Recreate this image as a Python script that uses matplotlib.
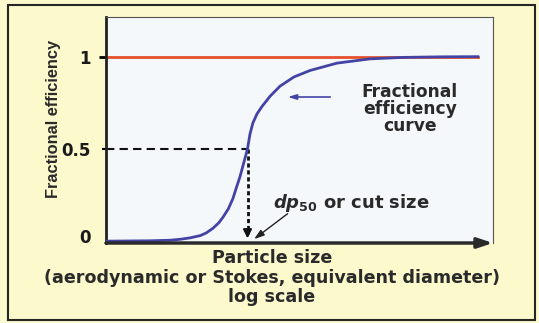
import matplotlib
matplotlib.use("Agg")
import matplotlib.pyplot as plt
from matplotlib.patches import Rectangle
from matplotlib.transforms import ScaledTranslation

# fractional efficiency curve (particle size on a log axis, arbitrary units)
sizes = [0.08, 0.175, 0.25, 0.3, 0.36, 0.43, 0.48, 0.54, 0.6, 0.646, 0.71, 0.77,
         0.82, 0.875, 0.94, 1.0, 1.045, 1.10, 1.185, 1.295, 1.494, 1.786, 2.29,
         3.05, 4.94, 8.9, 16.0, 31.0, 61.0]
efficiency = [0.0, 0.002, 0.005, 0.01, 0.018, 0.03, 0.045, 0.07, 0.10, 0.13, 0.175, 0.23,
              0.29, 0.35, 0.43, 0.50, 0.58, 0.64, 0.69, 0.73, 0.785, 0.84, 0.89,
              0.925, 0.965, 0.988, 0.996, 0.999, 1.0]
dp50 = 1.0
cut_eff = 0.5
ytick_vals = [0, 0.5, 1]
ytick_labels = ["0", "0.5", "1"]

ylabel = "Fractional efficiency"
xlabel_lines = ["Particle size", "(aerodynamic or Stokes, equivalent diameter)", "log scale"]
curve_label = "Fractional\nefficiency\ncurve"
cut_label = r"$dp_{50}$ or cut size"

plt.rcParams["mathtext.fontset"] = "custom"
plt.rcParams["mathtext.it"] = "DejaVu Sans:italic:bold"
plt.rcParams["mathtext.rm"] = "DejaVu Sans:bold"
plt.rcParams["mathtext.bf"] = "DejaVu Sans:bold"

W, H = 539, 323
fig = plt.figure(figsize=(W / 100, H / 100), dpi=100, facecolor="#fcf9cc")

# outer frame
fig.add_artist(Rectangle((8 / W, 1 - 320 / H), 527 / W, 315 / H, transform=fig.transFigure,
                         fill=False, ec="#262626", lw=1.5))

ax = fig.add_axes([106 / W, 1 - 243 / H, 387 / W, 226 / H], facecolor="#f5f8fa")
ax.set_xscale("log")
ax.set_xlim(0.08, 80)
ax.set_ylim(-0.01, 1.215)

ax.plot([sizes[0], sizes[-1]], [1, 1], color="#e5502c", lw=2, zorder=2)
ax.plot(sizes, efficiency, color="#4343a6", lw=2, zorder=3)

# cut size construction
ax.plot([sizes[0], dp50], [cut_eff, cut_eff], color="#111", lw=1.5, ls=(0, (4, 2.5)))
ax.plot([dp50, dp50], [cut_eff, 0.04], color="#111", lw=2, ls=(0, (1.5, 1)))
ax.annotate("", xy=(dp50, 0.0), xytext=(dp50, 0.06),
            arrowprops=dict(arrowstyle="-|>,head_length=0.5,head_width=0.25", color="#111", lw=1.5))

# axes styling
ax.set_xticks([])
ax.minorticks_off()
ax.set_yticks(ytick_vals)
ax.set_yticklabels(ytick_labels, fontsize=12, fontweight="bold", color="#1a1a1a")
ax.tick_params(axis="y", length=5, width=2, pad=6)
yt = ax.yaxis.get_major_ticks()
yt[0].tick1line.set_visible(False)
# lift the "0" a little off the axis arrow
lbl0 = yt[0].label1
lbl0.set_transform(lbl0.get_transform() + ScaledTranslation(0, 0.05, fig.dpi_scale_trans))
yt[1].tick1line.set_markersize(3)
yt[1].tick1line.set_markeredgewidth(1.5)
yt[2].tick1line.set_color("#e5502c")

ax.spines["left"].set_linewidth(2)
ax.spines["left"].set_color("#222")
for s in ("top", "right"):
    ax.spines[s].set_linewidth(0.8)
    ax.spines[s].set_color("#555")
ax.spines["bottom"].set_visible(False)
ax.annotate("", xy=(1.0, 0), xytext=(0, 0), xycoords="axes fraction",
            arrowprops=dict(arrowstyle="-|>,head_length=0.9,head_width=0.3",
                            color="#2a2a2a", lw=2.5, shrinkA=0, shrinkB=0),
            annotation_clip=False)

# labels
ax.text(0.7855, 0.593, curve_label, transform=ax.transAxes, ha="center", va="center",
        fontsize=12.3, fontweight="bold", color="#2a2a2a", linespacing=0.95)
ax.annotate("", xy=(0.4625, 0.646), xytext=(0.5866, 0.646), xycoords="axes fraction",
            arrowprops=dict(arrowstyle="-|>,head_length=0.5,head_width=0.15",
                            color="#4343a6", lw=1.2))
ax.text(0.431, 0.177, cut_label, transform=ax.transAxes, ha="left", va="center",
        fontsize=13, fontweight="bold", color="#2a2a2a")
ax.annotate("", xy=(0.377, 0.01), xytext=(0.475, 0.137), xycoords="axes fraction",
            arrowprops=dict(arrowstyle="-|>,head_length=0.6,head_width=0.2",
                            color="#222", lw=1))

fig.text(54 / W, 1 - 119 / H, ylabel, rotation=90, ha="center", va="center",
         family="Liberation Sans", fontsize=11.8, fontweight="bold", color="#2a2a2a")
for line, yc in zip(xlabel_lines, [258, 278, 297]):
    fig.text(272 / W, 1 - yc / H, line, ha="center", va="center",
             fontsize=12.6, fontweight="bold", color="#2a2a2a")

fig.savefig("out.png", dpi=100, facecolor=fig.get_facecolor())
